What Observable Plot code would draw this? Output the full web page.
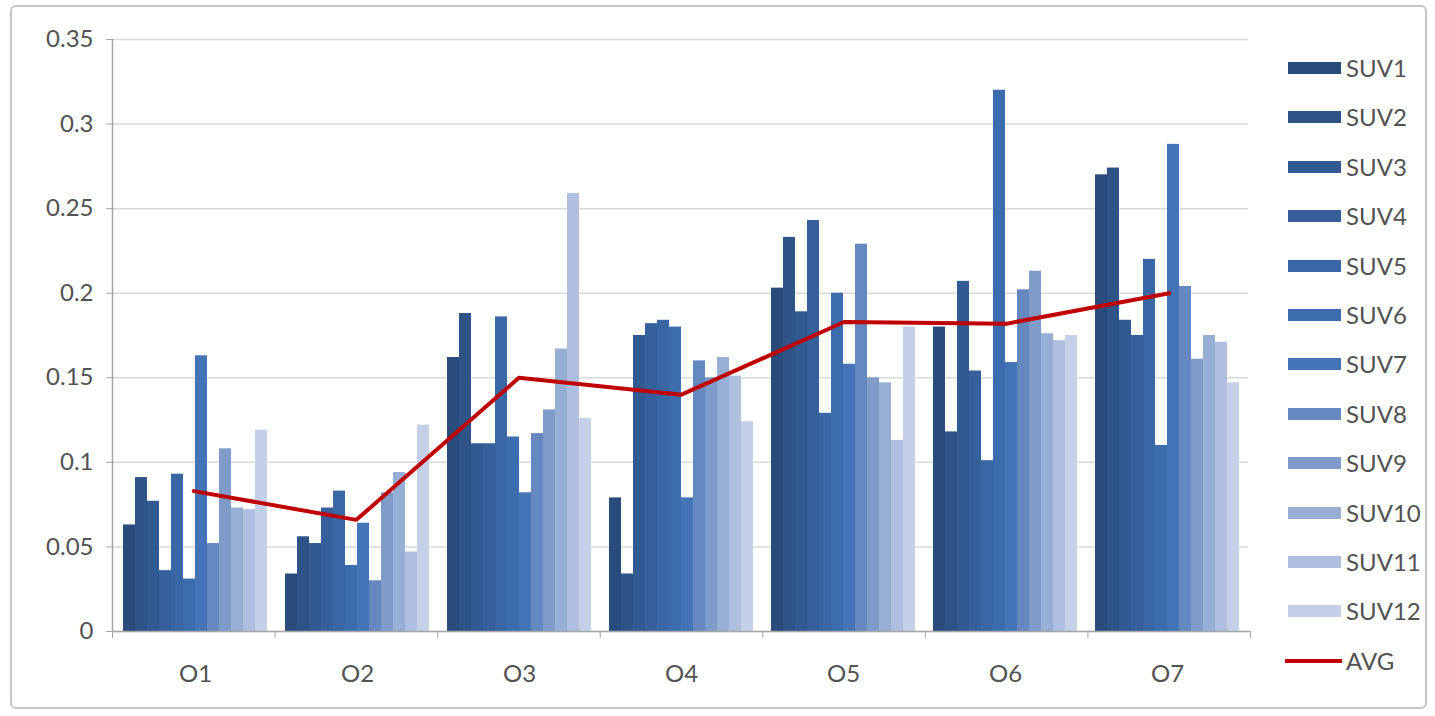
<!DOCTYPE html>
<html><head><meta charset="utf-8">
<script src="https://cdn.jsdelivr.net/npm/d3@7"></script>
<script src="https://cdn.jsdelivr.net/npm/@observablehq/plot@0.6"></script>
<style>
body{margin:0;background:#fff;font-family:Lato,"Open Sans",sans-serif;}
#wrap{position:relative;width:1435px;height:716px;overflow:hidden;background:#fff}
#frame{position:absolute;left:10px;top:5px;width:1417px;height:704px;border:2px solid #c6c6c6;border-radius:6px;box-sizing:border-box}
#main,#over{position:absolute;left:0;top:0}
#legend{position:absolute;left:0;top:0;width:1435px;height:716px;pointer-events:none}
.sw{position:absolute;height:12px;width:53px}
.lt{position:absolute;font-size:24px;color:#525252;line-height:24px}
</style></head><body>
<div id="wrap"><div id="frame"></div><div id="main"></div><div id="over"></div><div id="legend"></div></div>
<script>
const groups = ["O1","O2","O3","O4","O5","O6","O7"];
const series = ["SUV1","SUV2","SUV3","SUV4","SUV5","SUV6","SUV7","SUV8","SUV9","SUV10","SUV11","SUV12"];
const colors = ["#2a4c7d","#2e5387","#325a92","#36609b","#3966a4","#3c6cad","#4473b7","#6688c1","#7f9bca","#97aed5","#aebfdf","#c4d0e7"];
const o1 = [0.063,0.091,0.077,0.036,0.093,0.031,0.163,0.052,0.108,0.073,0.072,0.119];
const o2 = [0.034,0.056,0.052,0.073,0.083,0.039,0.064,0.030,0.082,0.094,0.047,0.122];
const o3 = [0.162,0.188,0.111,0.111,0.186,0.115,0.082,0.117,0.131,0.167,0.259,0.126];
const o4 = [0.079,0.034,0.175,0.182,0.184,0.180,0.079,0.160,0.150,0.162,0.151,0.124];
const o5 = [0.203,0.233,0.189,0.243,0.129,0.200,0.158,0.229,0.150,0.147,0.113,0.180];
const o6 = [0.180,0.118,0.207,0.154,0.101,0.320,0.159,0.202,0.213,0.176,0.172,0.175];
const o7 = [0.270,0.274,0.184,0.175,0.220,0.110,0.288,0.204,0.161,0.175,0.171,0.147];
const avg = [0.083,0.066,0.150,0.140,0.183,0.182,0.200];
const yTicks = [0,0.05,0.1,0.15,0.2,0.25,0.3,0.35];

const groupValues = [o1,o2,o3,o4,o5,o6,o7];
const data = groups.flatMap((g,i)=>groupValues[i].map((v,j)=>({group:g,series:series[j],value:v})));
const avgData = groups.map((g,i)=>({idx:i,group:g,value:avg[i]}));

const W=1435,H=716,ML=112,MR=185,MT=39,MB=85;
const font = "Lato, 'Open Sans', sans-serif";

const main = Plot.plot({
  width:W,height:H,marginLeft:ML,marginRight:MR,marginTop:MT,marginBottom:MB,
  style:{fontFamily:font,fontSize:"24px",color:"#525252",background:"transparent",overflow:"visible"},
  fx:{domain:groups,padding:0,label:null,axis:"bottom",tickSize:0,tickPadding:33},
  x:{domain:series,paddingInner:0,paddingOuter:0.65,axis:null},
  y:{domain:[0,0.35],axis:null},
  color:{domain:series,range:colors},
  marks:[
    Plot.gridY(yTicks,{stroke:"#d9d9d9",strokeOpacity:1,strokeWidth:1.5}),
    Plot.barY(data,{fx:"group",x:"series",y:"value",fill:"series"}),
    Plot.axisY(yTicks,{tickSize:8,tickPadding:13,stroke:"#a6a6a6",fill:"#525252",tickFormat:d=>String(d),label:null})
  ]
});
document.getElementById("main").appendChild(main);

const over = Plot.plot({
  width:W,height:H,marginLeft:ML,marginRight:MR,marginTop:MT,marginBottom:MB,
  style:{fontFamily:font,fontSize:"24px",background:"transparent",overflow:"visible"},
  x:{domain:[0,groups.length],axis:null},
  y:{domain:[0,0.35],axis:null},
  marks:[
    Plot.ruleX([0],{stroke:"#a6a6a6",strokeWidth:1.5}),
    Plot.ruleY([0],{stroke:"#a6a6a6",strokeWidth:1.5}),
    Plot.axisX(d3.range(groups.length+1),{tickSize:7,stroke:"#a6a6a6",tickFormat:()=>"",label:null}),
    Plot.lineY(avgData,{x:d=>d.idx+0.5,y:"value",stroke:"#c00000",strokeWidth:4})
  ]
});
document.getElementById("over").appendChild(over);

// legend
const leg = document.getElementById("legend");
const items = series.map((s,i)=>({label:s,color:colors[i],line:false})).concat([{label:"AVG",color:"#c00000",line:true}]);
items.forEach((it,i)=>{
  const cy = 68 + i*49.4;
  const sw = document.createElement("div");
  sw.className="sw";
  if(it.line){ sw.style.height="4px"; sw.style.left="1285px"; sw.style.width="57px"; sw.style.top=(cy-2)+"px"; }
  else { sw.style.left="1288px"; sw.style.top=(cy-6)+"px"; }
  sw.style.background=it.color;
  leg.appendChild(sw);
  const t = document.createElement("div");
  t.className="lt"; t.textContent=it.label;
  t.style.left="1346px"; t.style.top=(cy-12)+"px";
  leg.appendChild(t);
});
</script>
</body></html>
